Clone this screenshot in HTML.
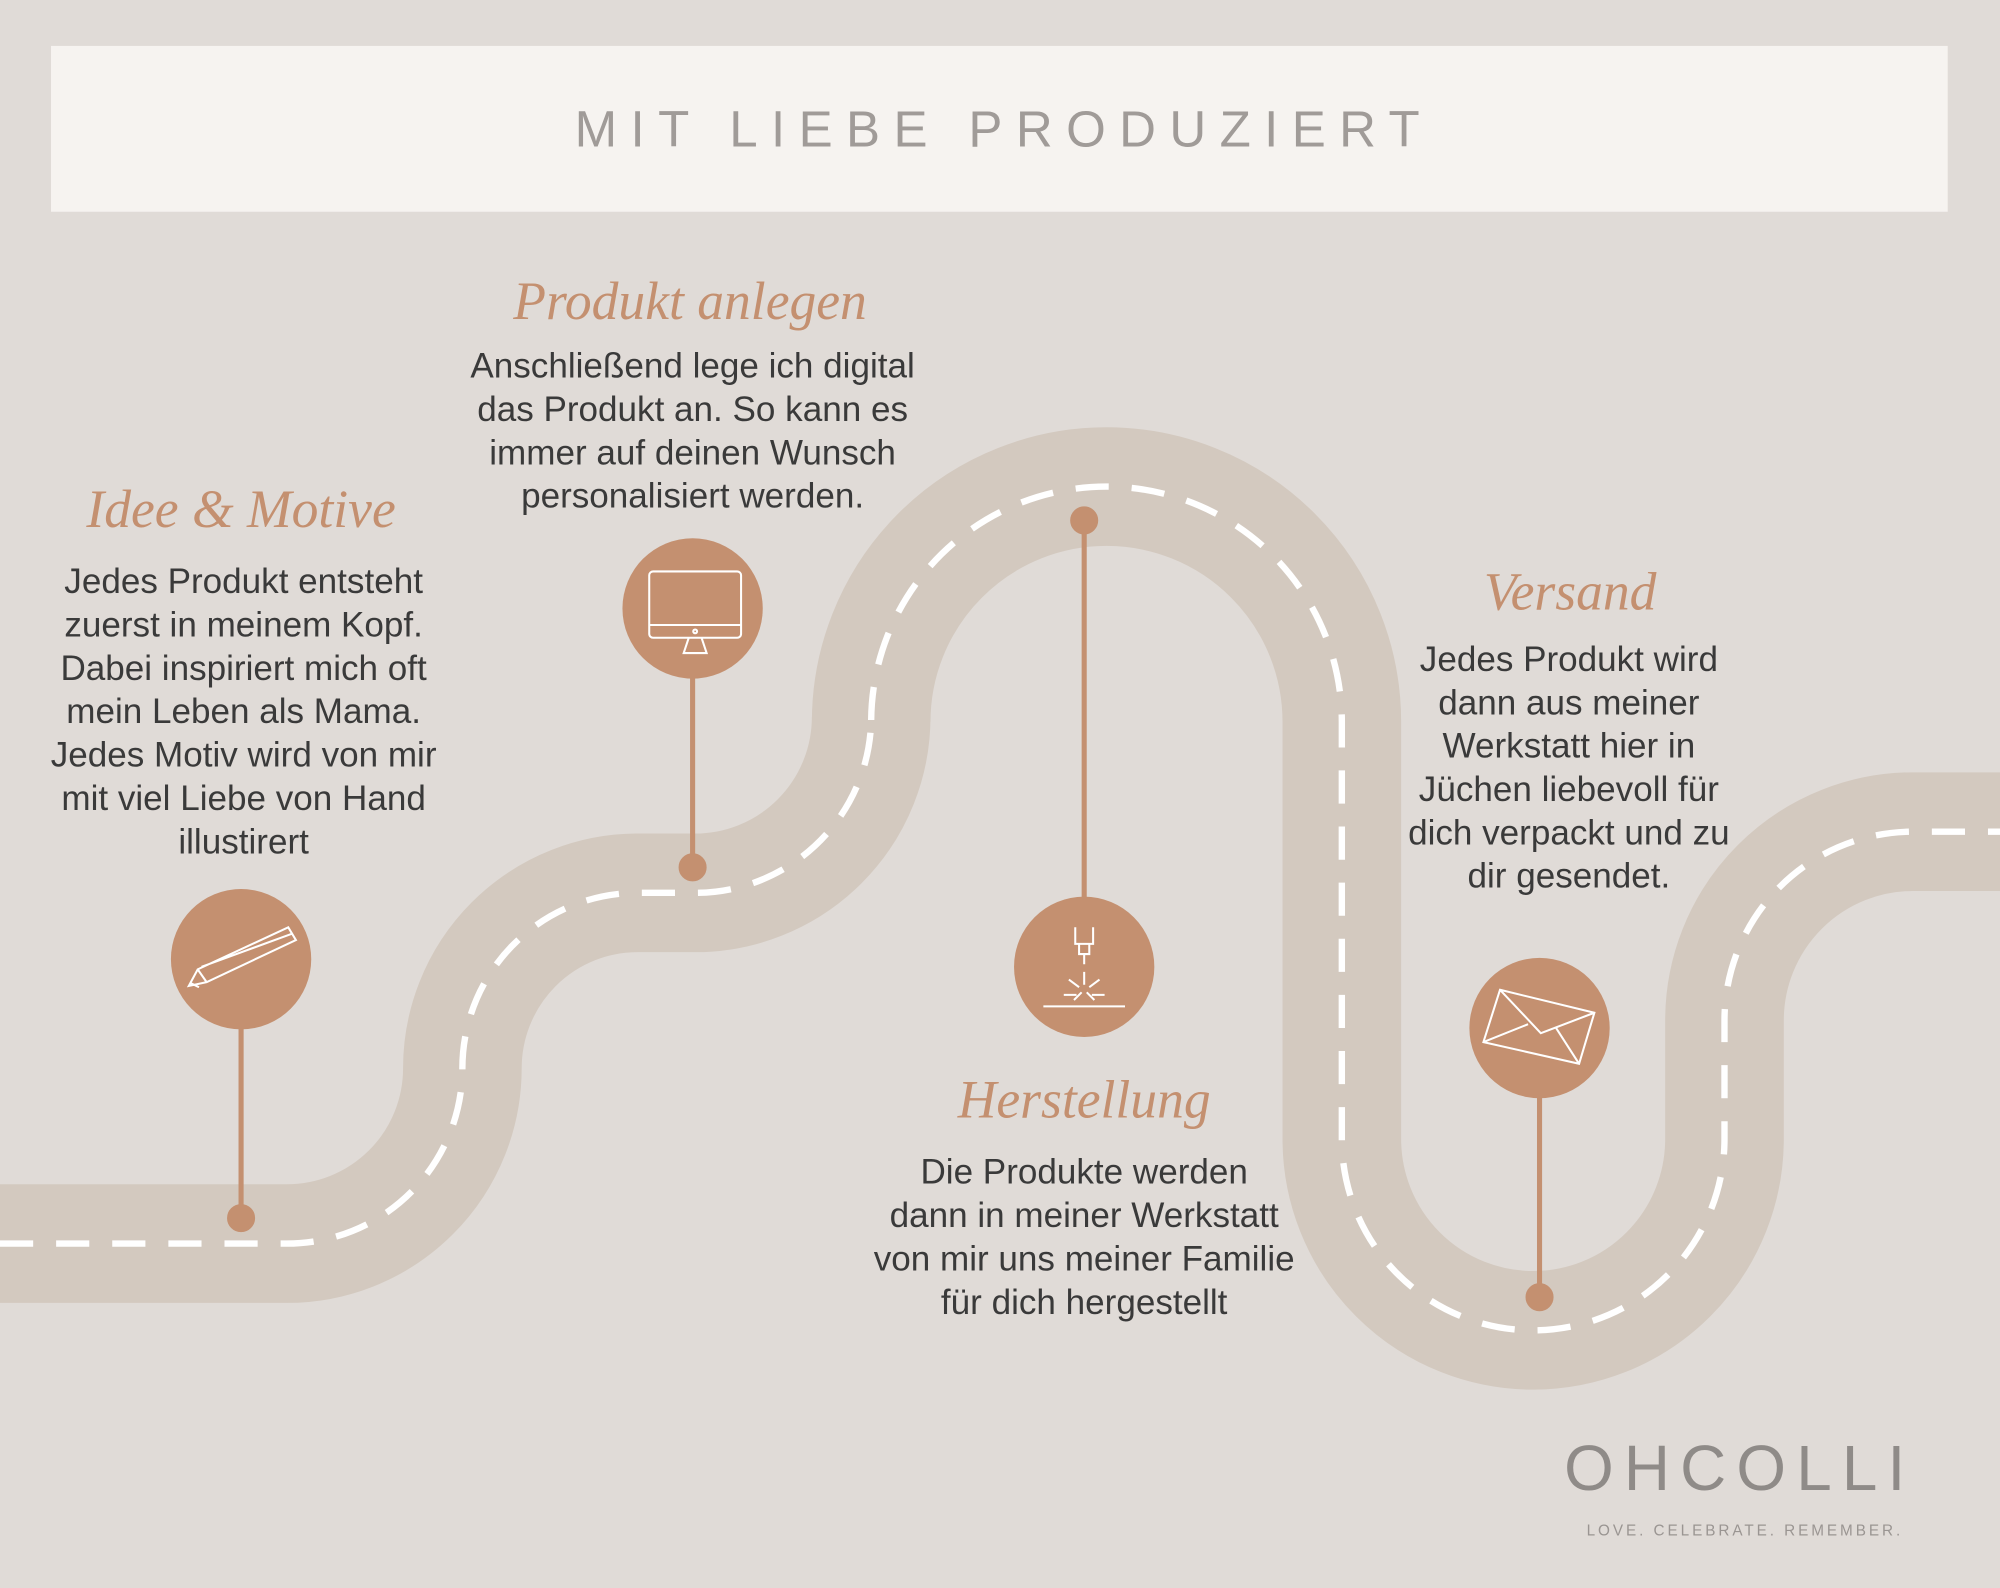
<!DOCTYPE html>
<html><head><meta charset="utf-8"><style>html,body{margin:0;padding:0;background:#e0dbd7}svg{display:block}</style></head><body>
<svg width="2000" height="1588" viewBox="0 0 1568 1245" preserveAspectRatio="none" xmlns="http://www.w3.org/2000/svg">
<rect width="1568" height="1245" fill="#e0dbd7"/>
<rect x="40" y="36" width="1487" height="130" fill="#f6f3f0"/>
<text x="787" y="115" text-anchor="middle" font-family="Liberation Sans, sans-serif" font-size="40" letter-spacing="10.5" fill="#a09b98">MIT LIEBE PRODUZIERT</text>
<path d="M0 975 H225 A137.5 137.5 0 0 0 362.5 837.5 A137.5 137.5 0 0 1 500 700 H545 A138 138 0 0 0 683 562 V566 A184.5 184.5 0 0 1 1052 566 V893 A150 150 0 0 0 1352 893 V800 A148 148 0 0 1 1500 652 H1568" fill="none" stroke="#d3c9bf" stroke-width="93"/>
<path d="M0 975 H225 A137.5 137.5 0 0 0 362.5 837.5 A137.5 137.5 0 0 1 500 700 H545 A138 138 0 0 0 683 562 V566 A184.5 184.5 0 0 1 1052 566 V893 A150 150 0 0 0 1352 893 V800 A148 148 0 0 1 1500 652 H1568" fill="none" stroke="#fff" stroke-width="5" stroke-dasharray="26 18"/>
<g stroke="#c49070" stroke-width="4" fill="#c49070">
<line x1="189" y1="752" x2="189" y2="955"/><circle cx="189" cy="955" r="9"/>
<line x1="543" y1="477" x2="543" y2="680"/><circle cx="543" cy="680" r="9"/>
<line x1="850" y1="408" x2="850" y2="758"/><circle cx="850" cy="408" r="9"/>
<line x1="1207" y1="806" x2="1207" y2="1017"/><circle cx="1207" cy="1017" r="9"/>
</g>
<g fill="#c49070">
<circle cx="189" cy="752" r="55"/><circle cx="543" cy="477" r="55"/><circle cx="850" cy="758" r="55"/><circle cx="1207" cy="806" r="55"/>
</g>
<g fill="none" stroke="#fff" stroke-width="1.6">
<path d="M148 773 L155 760 L226 727 L232 737 L162 770 Z M155 760 L162 770 M150 771 L156 774 M158 758 L229 732"/>
<rect x="509" y="448" width="72" height="52" rx="3"/><line x1="509" y1="490" x2="581" y2="490"/><circle cx="545" cy="495" r="1.5"/><path d="M540 500 L536 512 H554 L550 500"/>
<path d="M843 727 V740 H857 V727 M846 740 V748 H854 V740 M850 748 V756"/><line x1="818" y1="789" x2="882" y2="789"/><path d="M850 762 V772 M838 768 L846 774 M862 768 L854 774 M834 780 H844 M856 780 H866 M842 784 L848 778 M858 784 L852 778"/>
<path d="M1176 776 L1250 794 L1238 834 L1163 817 Z M1176 776 L1208 810 L1250 794 M1163 817 L1198 803 M1238 834 L1220 806"/>
</g>
<g font-family="Liberation Serif, serif" font-style="italic" font-size="42" fill="#c49070" text-anchor="middle">
<text x="189" y="413">Idee &amp; Motive</text>
<text x="541" y="250">Produkt anlegen</text>
<text x="850" y="876">Herstellung</text>
<text x="1231" y="478">Versand</text>
</g>
<g font-family="Liberation Sans, sans-serif" font-size="27.5" fill="#3a3a3a" text-anchor="middle">
<text x="191" y="465">Jedes Produkt entsteht</text><text x="191" y="499">zuerst in meinem Kopf.</text><text x="191" y="533">Dabei inspiriert mich oft</text><text x="191" y="567">mein Leben als Mama.</text><text x="191" y="601">Jedes Motiv wird von mir</text><text x="191" y="635">mit viel Liebe von Hand</text><text x="191" y="669">illustirert</text>
<text x="543" y="296">Anschließend lege ich digital</text><text x="543" y="330">das Produkt an. So kann es</text><text x="543" y="364">immer auf deinen Wunsch</text><text x="543" y="398">personalisiert werden.</text>
<text x="850" y="928">Die Produkte werden</text><text x="850" y="962">dann in meiner Werkstatt</text><text x="850" y="996">von mir uns meiner Familie</text><text x="850" y="1030">für dich hergestellt</text>
<text x="1230" y="526">Jedes Produkt wird</text><text x="1230" y="560">dann aus meiner</text><text x="1230" y="594">Werkstatt hier in</text><text x="1230" y="628">Jüchen liebevoll für</text><text x="1230" y="662">dich verpackt und zu</text><text x="1230" y="696">dir gesendet.</text>
</g>
<text x="1364" y="1168" text-anchor="middle" font-family="Liberation Sans, sans-serif" font-size="50" letter-spacing="8" fill="#8f8b88">OHCOLLI</text>
<text x="1368" y="1204" text-anchor="middle" font-family="Liberation Sans, sans-serif" font-size="12" letter-spacing="2.3" fill="#9a9592">LOVE. CELEBRATE. REMEMBER.</text>
</svg>
</body></html>
